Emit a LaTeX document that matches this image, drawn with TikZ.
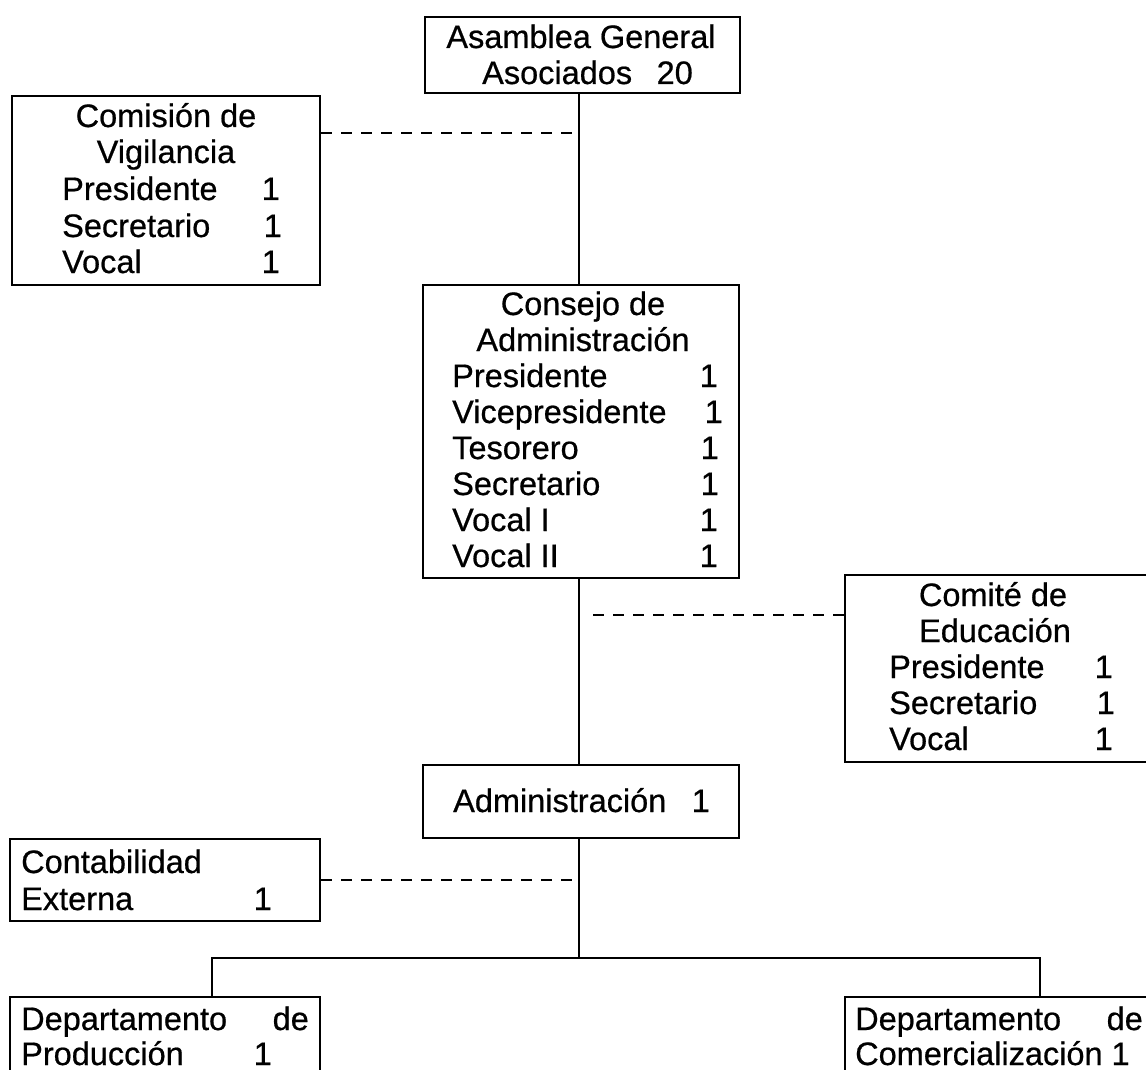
\documentclass[tikz,border=0pt]{standalone}
\usepackage{fontspec}
\setmainfont{Liberation Sans}[FakeBold=0.6]
\begin{document}
\begin{tikzpicture}[x=1pt,y=-1pt,
  box/.style={draw, line width=2.2pt, inner sep=0pt},
  txt/.style={inner sep=0pt, font=\fontsize{32.5}{36}\selectfont},
  link/.style={line width=2.2pt},
  dlink/.style={line width=2.2pt, dash pattern=on 11pt off 9pt}]
\useasboundingbox (0,0) rectangle (1146,1070);
% boxes
\node[box, minimum width=315pt, minimum height=76pt]  (asam)   at (582.5,55) {};
\node[box, minimum width=308pt, minimum height=189pt] (comis)  at (166,190.5) {};
\node[box, minimum width=316pt, minimum height=293pt] (cons)   at (581,431.5) {};
\node[box, minimum width=315pt, minimum height=187pt] (comite) at (1002.5,668.5) {};
\node[box, minimum width=316pt, minimum height=73pt]  (admin)  at (581,801.5) {};
\node[box, minimum width=310pt, minimum height=82pt]  (conta)  at (165,880) {};
\node[box, minimum width=310pt, minimum height=93pt]  (dprod)  at (165,1043.5) {};
\node[box, minimum width=315pt, minimum height=93pt]  (dcom)   at (1002.5,1043.5) {};
% texts: Asamblea
\node[txt, anchor=base] (a1) at (581,48) {Asamblea General};
\node[txt, anchor=base west] (a2) at (482,84) {Asociados};
\node[txt, anchor=base east] (a3) at (693,84) {20};
% Comision
\node[txt, anchor=base] (c1) at (166,127) {Comisión de};
\node[txt, anchor=base] (c2) at (166,163) {Vigilancia};
\node[txt, anchor=base west] (c3) at (62,200) {Presidente};
\node[txt, anchor=base east] (c3n) at (280,200) {1};
\node[txt, anchor=base west] (c4) at (62,237) {Secretario};
\node[txt, anchor=base east] (c4n) at (282,237) {1};
\node[txt, anchor=base west] (c5) at (62,273) {Vocal};
\node[txt, anchor=base east] (c5n) at (280,273) {1};
% Consejo
\node[txt, anchor=base] (k1) at (583,315) {Consejo de};
\node[txt, anchor=base] (k2) at (583,351) {Administración};
\node[txt, anchor=base west] (k3) at (452,387) {Presidente};
\node[txt, anchor=base east] (k3n) at (718,387) {1};
\node[txt, anchor=base west] (k4) at (452,423) {Vicepresidente};
\node[txt, anchor=base east] (k4n) at (723,423) {1};
\node[txt, anchor=base west] (k5) at (452,459) {Tesorero};
\node[txt, anchor=base east] (k5n) at (719,459) {1};
\node[txt, anchor=base west] (k6) at (452,495) {Secretario};
\node[txt, anchor=base east] (k6n) at (719,495) {1};
\node[txt, anchor=base west] (k7) at (452,531) {Vocal I};
\node[txt, anchor=base east] (k7n) at (718,531) {1};
\node[txt, anchor=base west] (k8) at (452,567) {Vocal II};
\node[txt, anchor=base east] (k8n) at (718,567) {1};
% Comite
\node[txt, anchor=base] (e1) at (993,606) {Comité de};
\node[txt, anchor=base] (e2) at (995,642) {Educación};
\node[txt, anchor=base west] (e3) at (889,678) {Presidente};
\node[txt, anchor=base east] (e3n) at (1113,678) {1};
\node[txt, anchor=base west] (e4) at (889,714) {Secretario};
\node[txt, anchor=base east] (e4n) at (1115,714) {1};
\node[txt, anchor=base west] (e5) at (889,750) {Vocal};
\node[txt, anchor=base east] (e5n) at (1113,750) {1};
% Administracion
\node[txt, anchor=base west] (m1) at (453,812) {Administración};
\node[txt, anchor=base east] (m1n) at (710,812) {1};
% Contabilidad
\node[txt, anchor=base west] (t1) at (21,873) {Contabilidad};
\node[txt, anchor=base west] (t2) at (21,910) {Externa};
\node[txt, anchor=base east] (t2n) at (272,910) {1};
% Departamentos
\node[txt, anchor=base west] (p1) at (21,1030) {Departamento};
\node[txt, anchor=base east] (p1d) at (309,1030) {de};
\node[txt, anchor=base west] (p2) at (21,1065) {Producción};
\node[txt, anchor=base east] (p2n) at (272,1065) {1};
\node[txt, anchor=base west] (q1) at (855,1030) {Departamento};
\node[txt, anchor=base east] (q1d) at (1143,1030) {de};
\node[txt, anchor=base west] (q2) at (855,1065) {Comercialización 1};
% connector coordinates
\coordinate (spine) at (579,0);
\coordinate (d1) at (579,133);
\coordinate (d2) at (587,615);
\coordinate (d3) at (579,880);
\coordinate (busL) at (212,958);
\coordinate (busR) at (1040,958);
% solid connectors
\draw[link] (asam.south -| spine) -- (cons.north -| spine);
\draw[link] (cons.south -| spine) -- (admin.north -| spine);
\draw[link] (admin.south -| spine) -- (spine |- busL);
\draw[link] (dprod.north -| busL) -- (busL) -- (busR) -- (dcom.north -| busR);
% dashed connectors
\draw[dlink] (comis.east |- d1) -- (d1);
\draw[dlink] (comite.west |- d2) -- (d2);
\draw[dlink] (conta.east |- d3) -- (d3);
\end{tikzpicture}
\end{document}
